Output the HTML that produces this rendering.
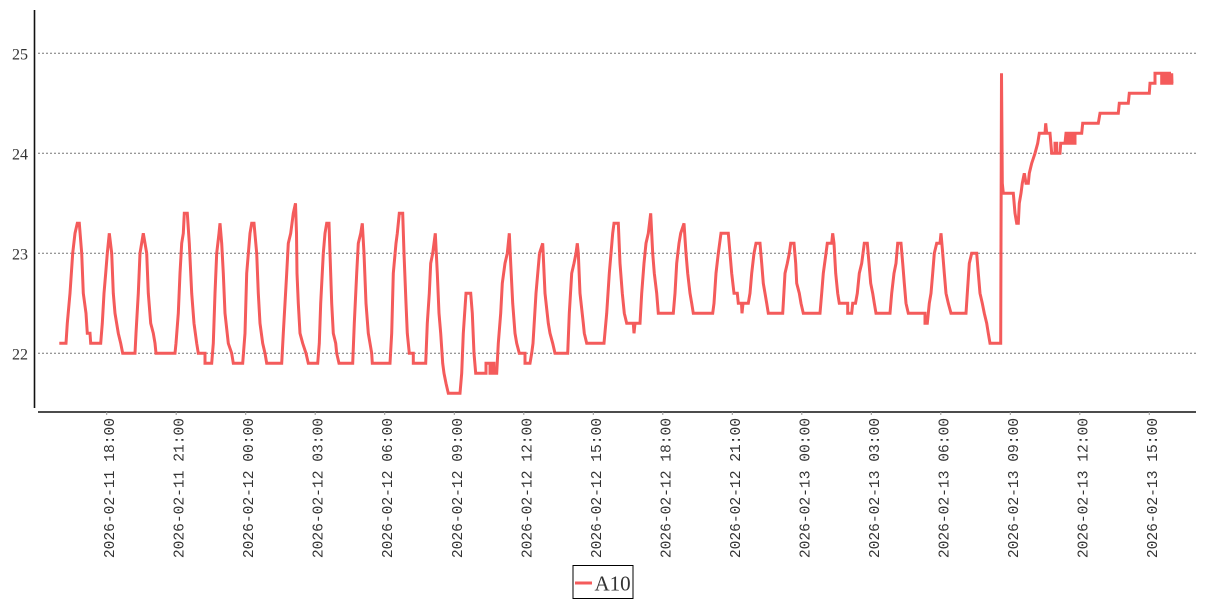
<!DOCTYPE html>
<html>
<head>
<meta charset="utf-8">
<style>
  html, body { margin: 0; padding: 0; background: #ffffff; }
  body { width: 1207px; height: 600px; overflow: hidden; }
  svg { display: block; }
  .yl { font-family: "Liberation Serif", serif; font-size: 16px; fill: #333; }
  .xl { font-family: "Liberation Mono", monospace; font-size: 14.6px; fill: #333; }
  .lg { font-family: "Liberation Serif", serif; font-size: 21px; fill: #333; }
</style>
</head>
<body>
<svg width="1207" height="600" viewBox="0 0 1207 600" xmlns="http://www.w3.org/2000/svg">
  <!-- grid -->
  <g stroke="#777" stroke-width="1" stroke-dasharray="2,2">
    <line x1="38" y1="53.3" x2="1196" y2="53.3"/>
    <line x1="38" y1="153.3" x2="1196" y2="153.3"/>
    <line x1="38" y1="253.3" x2="1196" y2="253.3"/>
    <line x1="38" y1="353.3" x2="1196" y2="353.3"/>
  </g>
  <!-- axes -->
  <line x1="34.5" y1="10" x2="34.5" y2="408" stroke="#111" stroke-width="1.6"/>
  <line x1="38" y1="412" x2="1196" y2="412" stroke="#111" stroke-width="1.6"/>
  <!-- y labels -->
  <text class="yl" x="28" y="59.5" text-anchor="end">25</text>
  <text class="yl" x="28" y="159.5" text-anchor="end">24</text>
  <text class="yl" x="28" y="259.5" text-anchor="end">23</text>
  <text class="yl" x="28" y="359.5" text-anchor="end">22</text>
  <!-- x ticks -->
  <g stroke="#999" stroke-width="1">
    <line x1="106.7" y1="412" x2="106.7" y2="415"/>
    <line x1="176.2" y1="412" x2="176.2" y2="415"/>
    <line x1="245.7" y1="412" x2="245.7" y2="415"/>
    <line x1="315.2" y1="412" x2="315.2" y2="415"/>
    <line x1="384.7" y1="412" x2="384.7" y2="415"/>
    <line x1="454.3" y1="412" x2="454.3" y2="415"/>
    <line x1="523.8" y1="412" x2="523.8" y2="415"/>
    <line x1="593.3" y1="412" x2="593.3" y2="415"/>
    <line x1="662.8" y1="412" x2="662.8" y2="415"/>
    <line x1="732.3" y1="412" x2="732.3" y2="415"/>
    <line x1="801.8" y1="412" x2="801.8" y2="415"/>
    <line x1="871.3" y1="412" x2="871.3" y2="415"/>
    <line x1="940.8" y1="412" x2="940.8" y2="415"/>
    <line x1="1010.3" y1="412" x2="1010.3" y2="415"/>
    <line x1="1079.8" y1="412" x2="1079.8" y2="415"/>
    <line x1="1149.3" y1="412" x2="1149.3" y2="415"/>
  </g>
  <!-- x labels -->
  <g class="xl" text-anchor="end">
    <text transform="translate(114.2,418) rotate(-90)">2026-02-11 18:00</text>
    <text transform="translate(183.7,418) rotate(-90)">2026-02-11 21:00</text>
    <text transform="translate(253.2,418) rotate(-90)">2026-02-12 00:00</text>
    <text transform="translate(322.7,418) rotate(-90)">2026-02-12 03:00</text>
    <text transform="translate(392.2,418) rotate(-90)">2026-02-12 06:00</text>
    <text transform="translate(461.8,418) rotate(-90)">2026-02-12 09:00</text>
    <text transform="translate(531.3,418) rotate(-90)">2026-02-12 12:00</text>
    <text transform="translate(600.8,418) rotate(-90)">2026-02-12 15:00</text>
    <text transform="translate(670.3,418) rotate(-90)">2026-02-12 18:00</text>
    <text transform="translate(739.8,418) rotate(-90)">2026-02-12 21:00</text>
    <text transform="translate(809.3,418) rotate(-90)">2026-02-13 00:00</text>
    <text transform="translate(878.8,418) rotate(-90)">2026-02-13 03:00</text>
    <text transform="translate(948.3,418) rotate(-90)">2026-02-13 06:00</text>
    <text transform="translate(1017.8,418) rotate(-90)">2026-02-13 09:00</text>
    <text transform="translate(1087.3,418) rotate(-90)">2026-02-13 12:00</text>
    <text transform="translate(1156.8,418) rotate(-90)">2026-02-13 15:00</text>
  </g>
  <!-- series (x in px, y in value units) -->
  <g transform="matrix(1 0 0 -100 0 2553.3)">
    <polyline fill="none" stroke="#f45b5b" stroke-width="3" vector-effect="non-scaling-stroke" stroke-linejoin="miter" points="
59.3,22.1 66,22.1 67.3,22.3 70,22.6 72.7,23.0 75,23.2 77.3,23.3 79.3,23.3 81.7,23.0 83.3,22.6 86,22.4 87.3,22.2 90,22.2 90.7,22.1 100.7,22.1
102.3,22.3 104,22.6 105.7,22.8 107.3,23.0 109.3,23.2 111.7,23.0 113.3,22.6 115,22.4 118.3,22.2 120.7,22.1 122.7,22.0 135,22.0
136,22.2 138.3,22.6 140,23.0 143.3,23.2 146.7,23.0 148.3,22.6 150.7,22.3 153.3,22.2 155,22.1 156,22.0 175,22.0
176,22.1 178.3,22.4 180,22.8 181.7,23.1 183.3,23.2 184.3,23.4 187.3,23.4 189.3,23.1 191.7,22.6 194,22.3 196.7,22.1 198.3,22.0 205,22.0 205,21.9 211.7,21.9
213.3,22.1 215,22.6 216.7,23.0 219,23.2 220,23.3 221.7,23.1 223.3,22.8 225,22.4 228.3,22.1 231.7,22.0 233.3,21.9 242.7,21.9
245,22.2 246.7,22.8 250,23.2 251.7,23.3 254,23.3 256.7,23.0 258.3,22.6 260,22.3 262.7,22.1 265,22.0 266.7,21.9 281.7,21.9
283.3,22.2 286.7,22.8 288.3,23.1 290.7,23.2 293.3,23.4 295.5,23.5 296.5,23.2 297,22.8 298.3,22.5 300,22.2 302.7,22.1 306,22.0 308.3,21.9 317.7,21.9
319.3,22.1 320.7,22.5 323.3,23.0 325,23.2 326.7,23.3 329,23.3 330,23.0 331.7,22.5 333.3,22.2 335.7,22.1 336.7,22.0 339,21.9 352.7,21.9
354.3,22.3 356.7,22.8 358.3,23.1 360.7,23.2 362.3,23.3 364,23.0 366,22.5 368.3,22.2 370,22.1 371.7,22.0 372.3,21.9 390,21.9
391.7,22.2 393.3,22.8 396,23.1 397.3,23.2 399.3,23.4 402.7,23.4 404,23.0 406,22.5 407.3,22.2 409.3,22.0 413.3,22.0 413.3,21.9 425.7,21.9
427.3,22.3 429.3,22.6 430.7,22.9 432.7,23.0 435.3,23.2 437.3,22.8 439,22.4 440.7,22.2 442.7,21.9 444,21.8 446,21.7 448.3,21.6 460,21.6
461.7,21.8 463.3,22.2 466,22.6 470.7,22.6 472.3,22.4 474,22.0 475.7,21.8 486,21.8 486,21.9 490,21.9 490,21.8 492,21.8 492,21.9 494,21.9 494,21.8 496.7,21.8
498.3,22.1 500.7,22.4 502.3,22.7 505,22.9 507.3,23.0 509.3,23.2 510.7,22.9 512.7,22.5 515,22.2 516.7,22.1 519.3,22.0 525,22.0 525,21.9 530,21.9
531.7,22.0 533,22.1 536,22.6 539.5,23.0 542.7,23.1 545,22.6 548.3,22.3 550,22.2 552.7,22.1 555,22.0 567.7,22.0
569.3,22.4 571.7,22.8 574,22.9 576,23.0 577.3,23.1 578.3,23.0 580,22.6 583.3,22.3 584.3,22.2 586.7,22.1 604,22.1
606.7,22.4 609.3,22.8 611,23.0 612.7,23.2 614,23.3 618.3,23.3 620,22.9 622.3,22.6 624.3,22.4 626.7,22.3 633.3,22.3 634,22.2 635,22.3 640,22.3
641.7,22.6 644,22.9 646,23.1 648.3,23.2 650.7,23.4 652.7,23.0 654.3,22.8 656.7,22.6 658.3,22.4 673.3,22.4
675,22.6 676.7,22.9 679,23.1 680.7,23.2 684,23.3 686,23.0 687.7,22.8 690,22.6 691.7,22.5 693.3,22.4 712.7,22.4
714,22.5 716,22.8 718.3,23.0 721,23.2 728.3,23.2 730,23.0 731.7,22.8 734,22.6 737.3,22.6 738.3,22.5 741.5,22.5 742,22.4 743,22.5 748.3,22.5
750,22.6 751.7,22.8 754,23.0 756,23.1 760,23.1 761.7,22.9 763.3,22.7 765,22.6 766.7,22.5 768.3,22.4 782.7,22.4
783.3,22.5 785,22.8 787.3,22.9 789.3,23.0 790.7,23.1 794,23.1 795.7,22.9 796.7,22.7 799.3,22.6 801,22.5 803.3,22.4 820,22.4
821.7,22.6 823.3,22.8 826,23.0 827.3,23.1 831.7,23.1 832.7,23.2 834,23.1 835.7,22.8 837.7,22.6 839.3,22.5 847.7,22.5 847.7,22.4 851.7,22.4 852.7,22.5 855.5,22.5
857.3,22.6 859.3,22.8 861.7,22.9 864.3,23.1 867.3,23.1 869,22.9 870.7,22.7 872.7,22.6 874.3,22.5 876,22.4 890,22.4
891.7,22.6 894,22.8 896,22.9 897.7,23.1 901,23.1 902.7,22.9 904.3,22.7 906,22.5 908.3,22.4 925,22.4 925,22.3 927.3,22.3
929.3,22.5 931,22.6 932.7,22.8 934.3,23.0 936.7,23.1 940,23.1 941,23.2 942.7,23.0 944.3,22.8 946,22.6 948.3,22.5 951,22.4 966,22.4
967.3,22.6 969.3,22.9 971.7,23.0 976.7,23.0 978.3,22.8 980,22.6 982.3,22.5 984.3,22.4 986.7,22.3 988.3,22.2 990,22.1 1000.7,22.1
1001.5,24.8 1002.3,23.7 1003.3,23.6 1013.3,23.6 1015,23.4 1016.7,23.3 1018.3,23.3 1019.3,23.5 1021,23.6 1022.3,23.7 1024.3,23.8 1026,23.7 1028.3,23.7 1029.3,23.8
1031.7,23.9 1035,24.0 1037.7,24.1 1039.3,24.2 1045,24.2 1045.7,24.3 1046.7,24.2 1050,24.2 1051.7,24.0 1055,24.0 1055,24.1 1056.7,24.1 1056.7,24.0 1060,24.0
1060.7,24.1 1065,24.1 1066,24.2 1067.5,24.2 1067.5,24.1 1069,24.1 1069,24.2 1070.5,24.2 1070.5,24.1 1072,24.1 1072,24.2 1073.5,24.2 1073.5,24.1 1075,24.1 1075,24.2
1081.7,24.2 1082.7,24.3 1098.3,24.3 1100,24.4 1118.3,24.4 1119.3,24.5 1128.3,24.5 1129.3,24.6 1149.3,24.6 1150,24.7 1155,24.7 1155,24.8 1161.7,24.8
1161.7,24.7 1163.5,24.7 1163.5,24.8 1165.5,24.8 1165.5,24.7 1167.5,24.7 1167.5,24.8 1169.5,24.8 1169.5,24.7 1171.7,24.7 1171.7,24.8 1172,24.7 1173.3,24.7
"/>
  </g>
  <!-- legend -->
  <rect x="573" y="565.5" width="60" height="33" fill="#fff" stroke="#000" stroke-width="1"/>
  <line x1="575" y1="583" x2="592" y2="583" stroke="#f45b5b" stroke-width="3"/>
  <text class="lg" x="594.5" y="590.5">A10</text>
</svg>
</body>
</html>
